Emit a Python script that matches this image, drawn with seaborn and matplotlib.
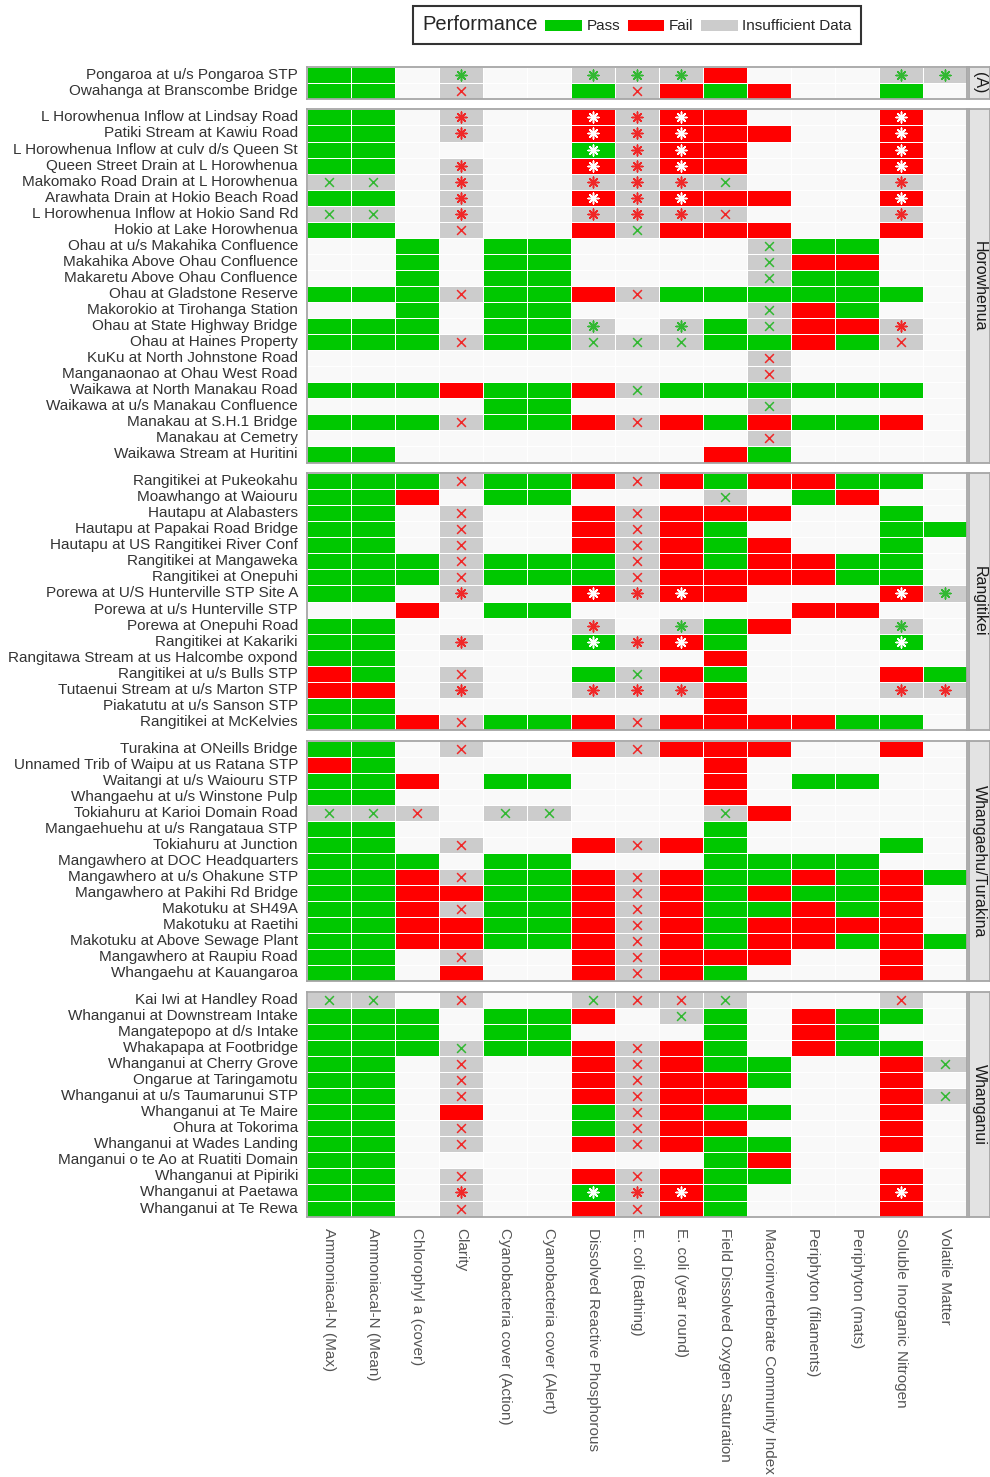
import numpy as np
import pandas as pd
import matplotlib
matplotlib.use("Agg")
import matplotlib.pyplot as plt
import seaborn as sns
from matplotlib.colors import ListedColormap
from matplotlib.patches import Patch

sns.set_theme(style="white")
plt.rcParams['font.family'] = ['Liberation Sans', 'DejaVu Sans']

# Indicators (x axis)
indicators = [
    "Ammoniacal-N (Max)", "Ammoniacal-N (Mean)", "Chlorophyl a (cover)", "Clarity",
    "Cyanobacteria cover (Action)", "Cyanobacteria cover (Alert)",
    "Dissolved Reactive Phosphorous", "E. coli (Bathing)", "E. coli (year round)",
    "Field Dissolved Oxygen Saturation", "Macroinvertebrate Community Index",
    "Periphyton (filaments)", "Periphyton (mats)", "Soluble Inorganic Nitrogen",
    "Volatile Matter",
]

# Status per cell: P = Pass, F = Fail, I = Insufficient Data, . = not monitored
# Marks per cell: g/r = green/red cross, G/R/W = green/red/white asterisk
sites_a = ["Pongaroa at u/s Pongaroa STP", "Owahanga at Branscombe Bridge"]
status_a = ["PP.I..IIIF...II", "PP.I..PIFPF..P."]
marks_a = ["...G..GGG....GG", "...r...r......."]

sites_h = [
    "L Horowhenua Inflow at Lindsay Road", "Patiki Stream at Kawiu Road",
    "L Horowhenua Inflow at culv d/s Queen St", "Queen Street Drain at L Horowhenua",
    "Makomako Road Drain at L Horowhenua", "Arawhata Drain at Hokio Beach Road",
    "L Horowhenua Inflow at Hokio Sand Rd", "Hokio at Lake Horowhenua",
    "Ohau at u/s Makahika Confluence", "Makahika Above Ohau Confluence",
    "Makaretu Above Ohau Confluence", "Ohau at Gladstone Reserve",
    "Makorokio at Tirohanga Station", "Ohau at State Highway Bridge",
    "Ohau at Haines Property", "KuKu at North Johnstone Road",
    "Manganaonao at Ohau West Road", "Waikawa at North Manakau Road",
    "Waikawa at u/s Manakau Confluence", "Manakau at S.H.1 Bridge",
    "Manakau at Cemetry", "Waikawa Stream at Huritini",
]
status_h = [
    "PP.I..FIFF...F.", "PP.I..FIFFF..F.", "PP....PIFF...F.", "PP.I..FIFF...F.",
    "II.I..IIII...I.", "PP.I..FIFFF..F.", "II.I..IIII...I.", "PP.I..FIFFF..F.",
    "..P.PP....IPP..", "..P.PP....IFF..", "..P.PP....IPP..", "PPPIPPFIPPPPPP.",
    "..P.PP....IFP..", "PPP.PPI.IPIFFI.", "PPPIPPIIIPPFPI.", "..........I....",
    "..........I....", "PPPFPPFIPPPPPP.", "....PP....I....", "PPPIPPFIFPFPPF.",
    "..........I....", "PP.......FP....",
]
marks_h = [
    "...R..WRW....W.", "...R..WRW....W.", "......WRW....W.", "...R..WRW....W.",
    "gg.R..RRRg...R.", "...R..WRW....W.", "gg.R..RRRr...R.", "...r...g.......",
    "..........g....", "..........g....", "..........g....", "...r...r.......",
    "..........g....", "......G.G.g..R.", "...r..ggg....r.", "..........r....",
    "..........r....", ".......g.......", "..........g....", "...r...r.......",
    "..........r....", "...............",
]

sites_r = [
    "Rangitikei at Pukeokahu", "Moawhango at Waiouru", "Hautapu at Alabasters",
    "Hautapu at Papakai Road Bridge", "Hautapu at US Rangitikei River Conf",
    "Rangitikei at Mangaweka", "Rangitikei at Onepuhi",
    "Porewa at U/S Hunterville STP Site A", "Porewa at u/s Hunterville STP",
    "Porewa at Onepuhi Road", "Rangitikei at Kakariki",
    "Rangitawa Stream at us Halcombe oxpond", "Rangitikei at u/s Bulls STP",
    "Tutaenui Stream at u/s Marton STP", "Piakatutu at u/s Sanson STP",
    "Rangitikei at McKelvies",
]
status_r = [
    "PPPIPPFIFPFFPP.", "PPF.PP...I.PF..", "PP.I..FIFFF..P.", "PP.I..FIFP...PP",
    "PP.I..FIFPF..P.", "PPPIPPPIFPFFPP.", "PPPIPPPIFFFFPP.", "PP.I..FIFF...FI",
    "..F.PP.....FF..", "PP....I.IPF..I.", "PP.I..PIFP...P.", "PP.......F.....",
    "FP.I..PIFP...FP", "FF.I..IIIF...II", "PP.......F.....", "PPFIPPFIFFFFPP.",
]
marks_r = [
    "...r...r.......", ".........g.....", "...r...r.......", "...r...r.......",
    "...r...r.......", "...r...r.......", "...r...r.......", "...R..WRW....WG",
    "...............", "......R.G....G.", "...R..WRW....W.", "...............",
    "...r...g.......", "...R..RRR....RR", "...............", "...r...r.......",
]

sites_w = [
    "Turakina at ONeills Bridge", "Unnamed Trib of Waipu at us Ratana STP",
    "Waitangi at u/s Waiouru STP", "Whangaehu at u/s Winstone Pulp",
    "Tokiahuru at Karioi Domain Road", "Mangaehuehu at u/s Rangataua STP",
    "Tokiahuru at Junction", "Mangawhero at DOC Headquarters",
    "Mangawhero at u/s Ohakune STP", "Mangawhero at Pakihi Rd Bridge",
    "Makotuku at SH49A", "Makotuku at Raetihi", "Makotuku at Above Sewage Plant",
    "Mangawhero at Raupiu Road", "Whangaehu at Kauangaroa",
]
status_w = [
    "PP.I..FIFFF..F.", "FP.......F.....", "PPF.PP...F.PP..", "PP.......F.....",
    "III.II...IF....", "PP.......P.....", "PP.I..FIFP...P.", "PPP.PP...PPPP..",
    "PPFIPPFIFPPFPFP", "PPFFPPFIFPFPPF.", "PPFIPPFIFPPFPF.", "PPFFPPFIFPFFFF.",
    "PPFFPPFIFPFFPFP", "PP.I..FIFFF..F.", "PP.F..FIFP...F.",
]
marks_w = [
    "...r...r.......", "...............", "...............", "...............",
    "ggr.gg...g.....", "...............", "...r...r.......", "...............",
    "...r...r.......", ".......r.......", "...r...r.......", ".......r.......",
    ".......r.......", "...r...r.......", ".......r.......",
]

sites_n = [
    "Kai Iwi at Handley Road", "Whanganui at Downstream Intake",
    "Mangatepopo at d/s Intake", "Whakapapa at Footbridge",
    "Whanganui at Cherry Grove", "Ongarue at Taringamotu",
    "Whanganui at u/s Taumarunui STP", "Whanganui at Te Maire",
    "Ohura at Tokorima", "Whanganui at Wades Landing",
    "Manganui o te Ao at Ruatiti Domain", "Whanganui at Pipiriki",
    "Whanganui at Paetawa", "Whanganui at Te Rewa",
]
status_n = [
    "II.I..IIII...I.", "PPP.PPF.IP.FPP.", "PPP.PP...P.FP..", "PPPIPPFIFP.FPP.",
    "PP.I..FIFPP..FI", "PP.I..FIFFP..F.", "PP.I..FIFF...FI", "PP.F..PIFPP..F.",
    "PP.I..PIFF...F.", "PP.I..FIFPP..F.", "PP.......PF....", "PP.I..FIFPP..F.",
    "PP.I..PIFP...F.", "PP.I..FIFP...F.",
]
marks_n = [
    "gg.r..grrg...r.", "........g......", "...............", "...g...r.......",
    "...r...r......g", "...r...r.......", "...r...r......g", ".......r.......",
    "...r...r.......", "...r...r.......", "...............", "...r...r.......",
    "...R..WRW....W.", "...r...r.......",
]

panels = [
    ("(A)", sites_a, status_a, marks_a),
    ("Horowhenua", sites_h, status_h, marks_h),
    ("Rangitikei", sites_r, status_r, marks_r),
    ("Whangaehu/Turakina", sites_w, status_w, marks_w),
    ("Whanganui", sites_n, status_n, marks_n),
]

status_labels = ["Pass", "Fail", "Insufficient Data"]
status_colors = ["#00c800", "#ff0000", "#cccccc"]
code_map = {"P": 0, "F": 1, "I": 2, ".": np.nan}
green_mk, red_mk = "#33b833", "#f02828"
mark_style = {
    "g": ("x", green_mk, 40),
    "r": ("x", red_mk, 40),
    "G": ((8, 2, 0), green_mk, 60),
    "R": ((8, 2, 0), red_mk, 60),
    "W": ((8, 2, 0), "white", 60),
}
cmap = ListedColormap(status_colors)

W, H = 990, 1477
fig = plt.figure(figsize=(W / 100, H / 100), dpi=100)

row_px, gap_px, top = 16.05, 10.6, 66.7
left, right = 307, 967
strip_l, strip_r = 969, 990

for i, (name, sites, status, marks) in enumerate(panels):
    n = len(sites)
    h = n * row_px
    y0 = 1 - (top + h) / H
    ax = fig.add_axes([left / W, y0, (right - left) / W, h / H])
    grid = pd.DataFrame([[code_map[c] for c in s] for s in status],
                        index=sites, columns=indicators)
    last = i == len(panels) - 1
    sns.heatmap(grid, ax=ax, cmap=cmap, vmin=-0.5, vmax=2.5, cbar=False,
                linewidths=0.4, linecolor="white",
                xticklabels=indicators if last else False, yticklabels=sites)
    ax.set_facecolor("#f9f9f9")
    ax.set_xticks(np.arange(len(indicators) + 1), minor=True)
    ax.set_yticks(np.arange(n + 1), minor=True)
    ax.grid(True, which="minor", color="white", lw=0.6)
    ax.tick_params(which="minor", length=0)
    ax.set_xlabel("")
    ax.set_ylabel("")

    # flags on top of cells
    for code, (mk, col, size) in mark_style.items():
        rows, cols = [], []
        for r, s in enumerate(marks):
            for c, ch in enumerate(s):
                if ch == code:
                    rows.append(r + 0.5)
                    cols.append(c + 0.5)
        if rows:
            ax.scatter(cols, rows, marker=mk, c=col, s=size, linewidths=1.1, zorder=5)

    for sp in ax.spines.values():
        sp.set_visible(True)
        sp.set_color("#a6a6a6")
        sp.set_linewidth(1.3)
    ax.tick_params(axis="y", length=2.5, color="#888888", pad=4,
                   labelsize=11, labelcolor="#333333", labelrotation=0)
    if last:
        ax.tick_params(axis="x", length=2.5, color="#888888", pad=6,
                       labelsize=11, labelcolor="#555555", labelrotation=270)
    else:
        ax.tick_params(axis="x", length=0)

    # facet strip on the right
    sax = fig.add_axes([strip_l / W, y0, (strip_r - strip_l) / W, h / H])
    sax.set_facecolor("#e3e3e3")
    sax.set_xticks([])
    sax.set_yticks([])
    for sp in sax.spines.values():
        sp.set_visible(True)
        sp.set_color("#a6a6a6")
        sp.set_linewidth(1.3)
    sax.text(0.5, 0.5, name, rotation=270, ha="center", va="center",
             fontsize=11.5, color="#1a1a1a", transform=sax.transAxes)

    top += h + gap_px

# legend across the top with its title on the left
handles = [Patch(facecolor=c, edgecolor="none", label=l)
           for c, l in zip(status_colors, status_labels)]
leg = fig.legend(handles=handles, loc="center", bbox_to_anchor=(637 / W, 1 - 25 / H),
                 ncol=3, title="Performance", frameon=True, fancybox=False,
                 edgecolor="black", fontsize=11, title_fontsize=14.5,
                 handlelength=2.4, handleheight=0.75, handletextpad=0.3,
                 columnspacing=0.5, borderpad=0.6)
leg.get_frame().set_linewidth(1.5)
box = leg.get_children()[0]
title_box, entries = box.get_children()
box._children = [entries]
entries._children = [title_box] + entries.get_children()

fig.savefig("out.png", dpi=100)
